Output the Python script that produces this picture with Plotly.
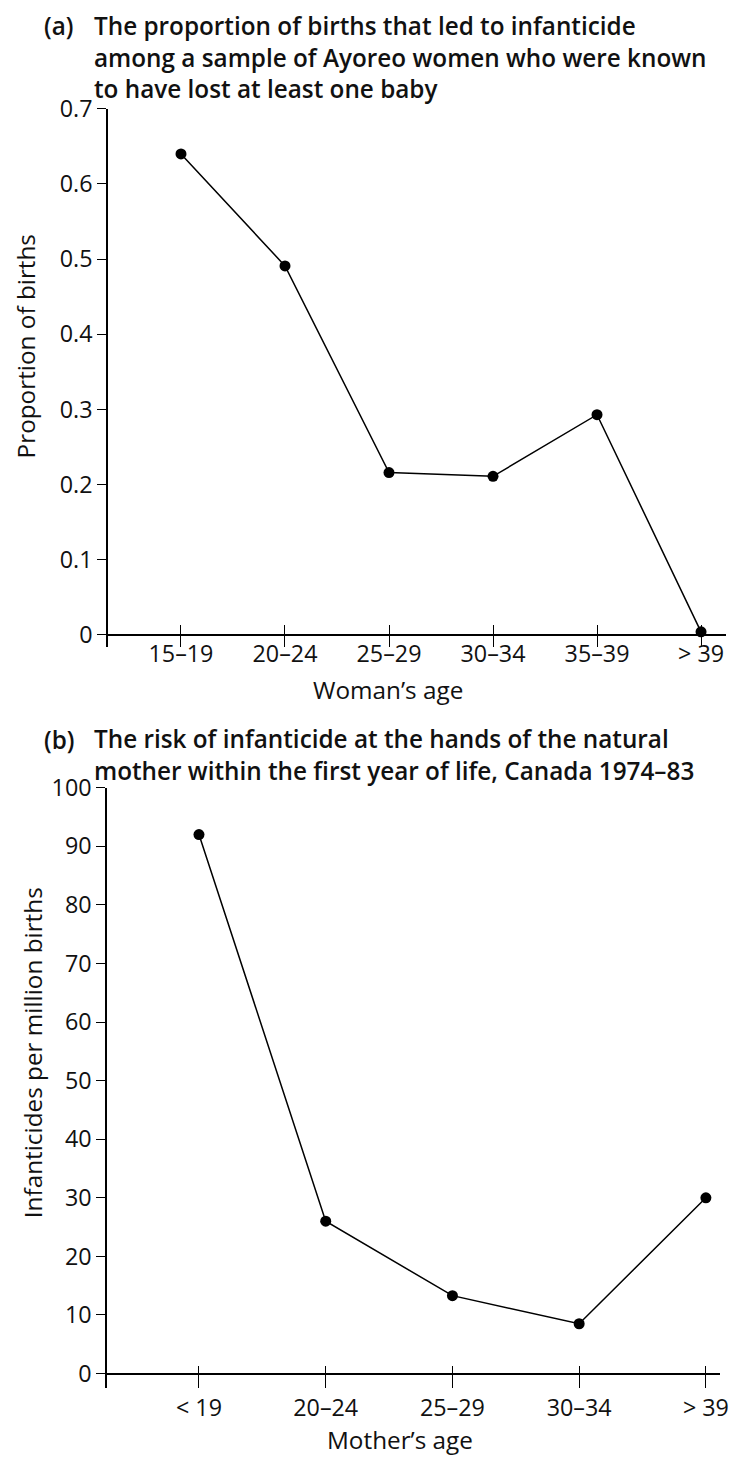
import plotly.graph_objects as go

W, H = 735, 1458

# Panel (a)
cats_a = ["15–19", "20–24", "25–29", "30–34", "35–39", "> 39"]
vals_a = [0.64, 0.491, 0.216, 0.211, 0.293, 0.004]
yticks_a = [0, 0.1, 0.2, 0.3, 0.4, 0.5, 0.6, 0.7]
ytext_a = ["0", "0.1", "0.2", "0.3", "0.4", "0.5", "0.6", "0.7"]

# Panel (b)
cats_b = ["< 19", "20–24", "25–29", "30–34", "> 39"]
vals_b = [92, 26, 13.3, 8.5, 30]
yticks_b = [0, 10, 20, 30, 40, 50, 60, 70, 80, 90, 100]

title_a = ["The proportion of births that led to infanticide",
           "among a sample of Ayoreo women who were known",
           "to have lost at least one baby"]
title_b = ["The risk of infanticide at the hands of the natural",
           "mother within the first year of life, Canada 1974–83"]

FONT = "Open Sans"

# layout helpers: target pixel position in the photographed page -> paper fraction
S, OFF = 0.988, 15.0

def px_x(p):
    return min(1.0, (p / S) / W)

def px_y(p):
    return 1 - ((p - OFF) / S) / H

fig = go.Figure()
fig.add_trace(go.Scatter(x=cats_a, y=vals_a, mode="lines+markers",
                         line=dict(color="black", width=1.5),
                         marker=dict(color="black", size=11),
                         xaxis="x", yaxis="y", showlegend=False))
fig.add_trace(go.Scatter(x=cats_b, y=vals_b, mode="lines+markers",
                         line=dict(color="black", width=1.5),
                         marker=dict(color="black", size=11),
                         xaxis="x2", yaxis="y2", showlegend=False))

tickfont = dict(family=FONT, size=23.3, color="#111")

common_x = dict(type="category", showline=False, showgrid=False, zeroline=False,
                ticks="inside", ticklen=22, tickwidth=1.3, tickcolor="black",
                tickfont=tickfont)
common_y = dict(showline=True, linecolor="black", linewidth=1.5, showgrid=False,
                ticks="outside", ticklen=9, tickwidth=1.3, tickcolor="black",
                zeroline=True, zerolinecolor="black", zerolinewidth=1.5,
                tickfont=tickfont)

fig.update_layout(
    width=W, height=H,
    margin=dict(l=0, r=0, t=0, b=0),
    paper_bgcolor="white", plot_bgcolor="white",
    xaxis=dict(common_x, domain=[px_x(108), px_x(727)], range=[-0.702, 5.24],
               anchor="y", categoryorder="array", categoryarray=cats_a,
               ticklabelstandoff=-9),
    yaxis=dict(common_y, domain=[px_y(646), px_y(107)], range=[-0.016, 0.7],
               anchor="x", tickvals=yticks_a, ticktext=ytext_a),
    xaxis2=dict(common_x, domain=[px_x(107), px_x(720)], range=[-0.726, 4.11],
                anchor="y2", categoryorder="array", categoryarray=cats_b,
                ticklabelstandoff=4),
    yaxis2=dict(common_y, domain=[px_y(1388), px_y(787)], range=[-2.4, 100],
                anchor="x2", tickvals=yticks_b),
)

title_font = dict(family=FONT, size=24.3, color="#111", weight=600)
ann = []
ann.append(dict(text="(a)", x=px_x(42), y=px_y(24), xref="paper", yref="paper",
                xanchor="left", yanchor="middle", showarrow=False, font=title_font))
ann.append(dict(text="<br>".join(title_a), x=px_x(92), y=px_y(55), xref="paper", yref="paper",
                xanchor="left", yanchor="middle", align="left", showarrow=False, font=title_font))
ann.append(dict(text="(b)", x=px_x(42), y=px_y(739), xref="paper", yref="paper",
                xanchor="left", yanchor="middle", showarrow=False, font=title_font))
ann.append(dict(text="<br>".join(title_b), x=px_x(92), y=px_y(754), xref="paper", yref="paper",
                xanchor="left", yanchor="middle", align="left", showarrow=False, font=title_font))

label_font = dict(family=FONT, size=24.3, color="#111")
ann.append(dict(text="Woman’s age", x=px_x(388), y=px_y(689), xref="paper", yref="paper",
                xanchor="center", yanchor="middle", showarrow=False, font=label_font))
ann.append(dict(text="Mother’s age", x=px_x(400), y=px_y(1440), xref="paper", yref="paper",
                xanchor="center", yanchor="middle", showarrow=False, font=label_font))
ann.append(dict(text="Proportion of births", x=px_x(25), y=px_y(345), xref="paper", yref="paper",
                xanchor="center", yanchor="middle", textangle=-90, showarrow=False, font=label_font))
ann.append(dict(text="Infanticides per million births", x=px_x(32), y=px_y(1052), xref="paper", yref="paper",
                xanchor="center", yanchor="middle", textangle=-90, showarrow=False, font=label_font))
fig.update_layout(annotations=ann)

fig.write_html("out.html")
